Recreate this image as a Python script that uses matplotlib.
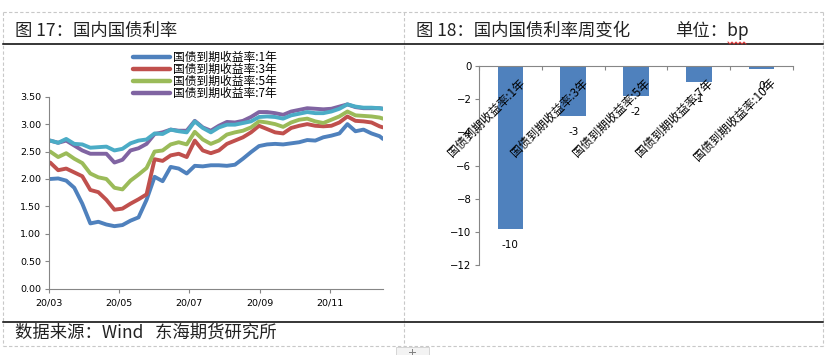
"""Recreate the two-panel bond yield figure (图17 / 图18)."""

import matplotlib
matplotlib.use("Agg")
import matplotlib.pyplot as plt
import matplotlib.dates as mdates
import numpy as np
import pandas as pd
from matplotlib.lines import Line2D
from matplotlib.patches import Rectangle
from matplotlib.ticker import FormatStrFormatter

plt.rcParams["font.family"] = ["Noto Sans CJK SC", "DejaVu Sans"]

# ---- data: weekly readings of the yield curves (%) ----
DATES = list(pd.date_range("2020-03-02", periods=42, freq="7D")) + [pd.Timestamp("2020-12-17")]

Y1 = [2.00, 2.01, 1.97, 1.84, 1.55, 1.19, 1.22, 1.17, 1.14, 1.16, 1.24, 1.30, 1.62, 2.04,
      1.96, 2.22, 2.19, 2.10, 2.24, 2.23, 2.25, 2.25, 2.24, 2.26, 2.37, 2.49, 2.60, 2.63,
      2.64, 2.63, 2.65, 2.67, 2.71, 2.70, 2.76, 2.79, 2.83, 3.00, 2.87, 2.90, 2.83, 2.78, 2.73]
Y3 = [2.30, 2.16, 2.19, 2.12, 2.05, 1.80, 1.76, 1.62, 1.44, 1.46, 1.55, 1.63, 1.72, 2.36,
      2.33, 2.43, 2.46, 2.40, 2.70, 2.52, 2.47, 2.52, 2.64, 2.70, 2.76, 2.85, 2.97, 2.91,
      2.85, 2.83, 2.93, 2.97, 3.00, 2.97, 2.96, 2.97, 3.03, 3.14, 3.06, 3.05, 3.03, 2.96, 2.94]
Y5 = [2.50, 2.40, 2.47, 2.37, 2.29, 2.10, 2.03, 2.00, 1.84, 1.81, 1.97, 2.08, 2.20, 2.50,
      2.52, 2.63, 2.67, 2.63, 2.86, 2.72, 2.64, 2.70, 2.81, 2.85, 2.88, 2.94, 3.05, 3.03,
      3.00, 2.95, 3.03, 3.08, 3.10, 3.05, 3.02, 3.08, 3.14, 3.23, 3.16, 3.15, 3.14, 3.12, 3.10]
Y7 = [2.70, 2.66, 2.70, 2.61, 2.52, 2.46, 2.46, 2.46, 2.30, 2.35, 2.52, 2.56, 2.64, 2.82,
      2.85, 2.90, 2.88, 2.88, 3.06, 2.94, 2.88, 2.97, 3.04, 3.03, 3.06, 3.13, 3.22, 3.22,
      3.20, 3.17, 3.23, 3.26, 3.29, 3.28, 3.27, 3.28, 3.32, 3.36, 3.31, 3.29, 3.29, 3.29, 3.28]
Y10 = [2.70, 2.66, 2.73, 2.64, 2.63, 2.57, 2.58, 2.59, 2.52, 2.55, 2.65, 2.70, 2.72, 2.83,
       2.82, 2.90, 2.87, 2.85, 3.05, 2.93, 2.85, 2.94, 2.99, 2.99, 3.02, 3.05, 3.13, 3.14,
       3.13, 3.10, 3.16, 3.19, 3.22, 3.20, 3.20, 3.23, 3.28, 3.36, 3.32, 3.30, 3.30, 3.29, 3.28]

SERIES_NAMES = ["国债到期收益率:1年", "国债到期收益率:3年", "国债到期收益率:5年",
                "国债到期收益率:7年", "国债到期收益率:10年"]

# weekly change (bp)
WEEK_CHANGE = [-9.8, -3.0, -1.8, -1.0, -0.2]

COLORS = ["#4F81BD", "#C0504D", "#9BBB59", "#8064A2", "#4BACC6"]
BAR_COLOR = "#4F81BD"
AXIS_GRAY = "#868686"

W, H = 830, 355


def fx(x):
    return x / W


def fy(y):
    return 1 - y / H


def hline(fig, y, x0, x1, **kw):
    fig.add_artist(Line2D([fx(x0), fx(x1)], [fy(y), fy(y)], transform=fig.transFigure, **kw))


def vline(fig, x, y0, y1, **kw):
    fig.add_artist(Line2D([fx(x), fx(x)], [fy(y0), fy(y1)], transform=fig.transFigure, **kw))


def main():
    fig = plt.figure(figsize=(W / 100, H / 100), dpi=100)
    fig.patch.set_facecolor("white")

    # panel frames
    dash = dict(color="#c8c8c8", lw=0.8, ls=(0, (3, 2)))
    hline(fig, 12, 3, 823, **dash)
    hline(fig, 346, 3, 823, **dash)
    for x in (3, 404, 823):
        vline(fig, x, 12, 346, **dash)
    hline(fig, 44, 3, 823, color="black", lw=1.1)
    hline(fig, 322, 3, 823, color="black", lw=1.1)
    fig.add_artist(Rectangle((fx(396), 0), fx(33), fy(347), transform=fig.transFigure,
                             facecolor="#f3f3f3", edgecolor="#d0d0d0", lw=0.6))
    hline(fig, 352, 409, 415, color="#808080", lw=0.7)
    vline(fig, 412, 349, 355, color="#808080", lw=0.7)

    # titles and footer
    tkw = dict(fontsize=12.5, color="#222222", va="center", ha="left")
    fig.text(fx(15), fy(31), "图 17：国内国债利率", **tkw)
    fig.text(fx(416), fy(31), "图 18：国内国债利率周变化", **tkw)
    fig.text(fx(675), fy(31), "单位：bp", **tkw)
    zx = np.arange(728, 748, 2)
    zy = np.where(np.arange(len(zx)) % 2 == 0, 42, 44)
    fig.add_artist(Line2D(fx(zx), fy(zy), transform=fig.transFigure, color="#e03030", lw=0.7))
    fig.text(fx(15), fy(333), "数据来源：Wind   东海期货研究所", **tkw)

    # ---- left: yield lines ----
    ax1 = fig.add_axes([fx(49), fy(288.7), fx(334), 192 / H])
    series = [Y1, Y3, Y5, Y7, Y10]
    for vals, color, name in zip(series, COLORS, SERIES_NAMES):
        ax1.plot(DATES, vals, color=color, lw=2.8, solid_capstyle="round",
                 solid_joinstyle="round", label=name)
    ax1.set_ylim(0, 3.5)
    ax1.set_yticks(np.arange(0, 3.51, 0.5))
    ax1.yaxis.set_major_formatter(FormatStrFormatter("%.2f"))
    ax1.set_xlim(pd.Timestamp("2020-03-01"), pd.Timestamp("2020-12-17"))
    ax1.set_xticks([pd.Timestamp(f"2020-{m:02d}-01") for m in (3, 5, 7, 9, 11)])
    ax1.xaxis.set_major_formatter(mdates.DateFormatter("%y/%m"))
    for s in ("top", "right"):
        ax1.spines[s].set_visible(False)
    for s in ("left", "bottom"):
        ax1.spines[s].set_color(AXIS_GRAY)
        ax1.spines[s].set_linewidth(0.8)
    ax1.tick_params(length=3, width=0.8, color=AXIS_GRAY, labelsize=6.8, pad=2.5)
    ax1.tick_params(axis="x", pad=4)
    for lab in ax1.get_xticklabels() + ax1.get_yticklabels():
        lab.set_family("DejaVu Sans")
    ax1.set_facecolor("none")

    # legend (only the first four series, as in the source)
    for i, (color, name) in enumerate(zip(COLORS[:4], SERIES_NAMES[:4])):
        y = 57 + i * 12
        fig.add_artist(Line2D([fx(133), fx(170)], [fy(y), fy(y)], transform=fig.transFigure,
                              color=color, lw=3.2, solid_capstyle="round"))
        fig.text(fx(173), fy(y), name, fontsize=8.5, va="center", ha="left", color="black")

    # ---- right: weekly change bars ----
    ax2 = fig.add_axes([fx(479), fy(265.3), fx(314), 199.6 / H])
    x = np.arange(len(WEEK_CHANGE))
    ax2.bar(x, WEEK_CHANGE, width=0.41, color=BAR_COLOR)
    ax2.set_xlim(-0.5, len(WEEK_CHANGE) - 0.5)
    ax2.set_ylim(-12, 0)
    ax2.set_yticks(np.arange(-12, 1, 2))
    ax2.set_xticks(np.arange(-0.5, len(WEEK_CHANGE), 1.0))
    ax2.set_xticklabels([])
    ax2.spines["bottom"].set_position(("data", 0))
    for s in ("top", "right"):
        ax2.spines[s].set_visible(False)
    for s in ("left", "bottom"):
        ax2.spines[s].set_color(AXIS_GRAY)
        ax2.spines[s].set_linewidth(0.8)
    ax2.tick_params(length=3, width=0.8, color=AXIS_GRAY, labelsize=7.3, pad=2.5)
    for lab in ax2.get_yticklabels():
        lab.set_family("DejaVu Sans")
    for i, (v, name) in enumerate(zip(WEEK_CHANGE, SERIES_NAMES)):
        ax2.text(i + 0.2, -0.92, name, rotation=45, rotation_mode="anchor",
                 ha="right", va="center", fontsize=8.5, color="black")
        ax2.text(i, v - 1.0, f"{int(round(v))}", ha="center", va="center",
                 fontsize=7.5, family="DejaVu Sans", color="black")
    ax2.set_facecolor("none")

    fig.savefig("out.png", dpi=100, facecolor="white")
    plt.close(fig)


if __name__ == "__main__":
    main()
